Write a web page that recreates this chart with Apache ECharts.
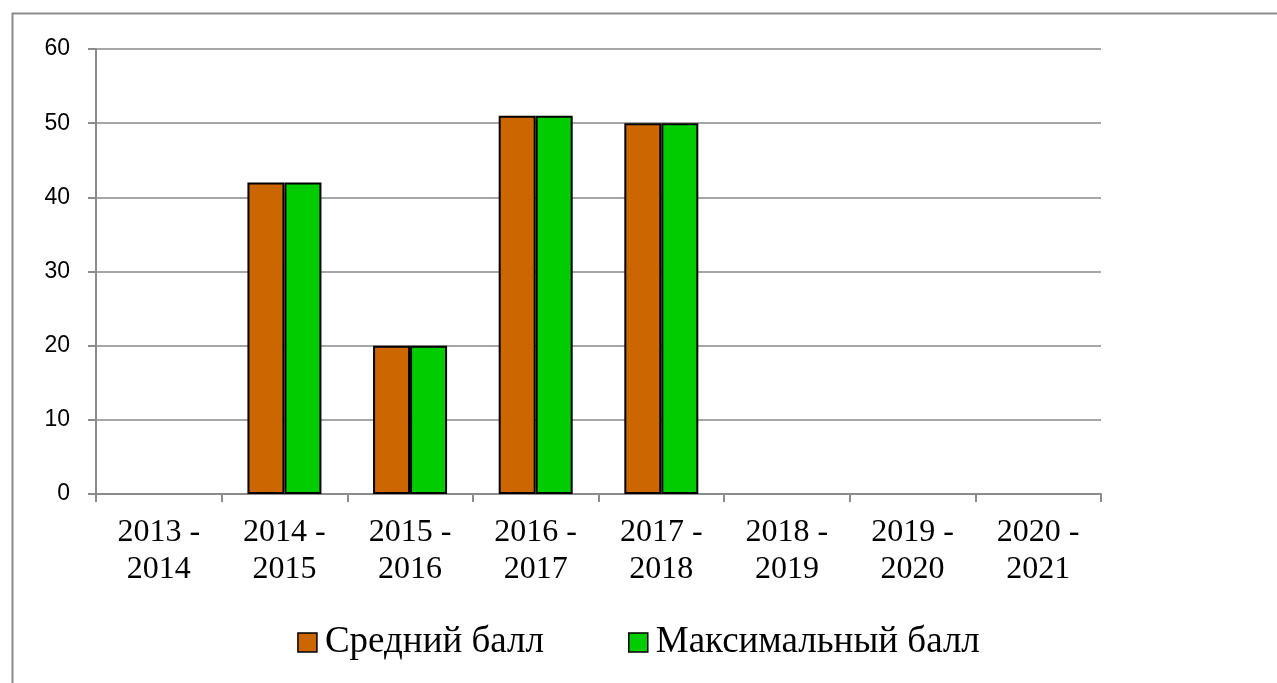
<!DOCTYPE html>
<html>
<head>
<meta charset="utf-8">
<script src="https://cdn.jsdelivr.net/npm/echarts@6/dist/echarts.min.js"></script>
<style>
  html, body { margin: 0; padding: 0; background: #fff; }
  #chart { width: 1277px; height: 683px; }
</style>
</head>
<body>
<div id="chart"></div>
<script>
// учебные годы
var categories = ['2013 -\n2014', '2014 -\n2015', '2015 -\n2016', '2016 -\n2017', '2017 -\n2018', '2018 -\n2019', '2019 -\n2020', '2020 -\n2021']
var avgScore = [null, 42, 20, 51, 50, null, null, null]
var maxScore = [null, 42, 20, 51, 50, null, null, null]
var seriesNames = ['Средний балл', 'Максимальный балл']

var myChart = echarts.init(document.getElementById('chart'))
var option = {
  animation: false,
  backgroundColor: '#fff',
  graphic: [
    {
      type: 'rect',
      shape: { x: 12.5, y: 13.5, width: 1400, height: 800 },
      style: { fill: 'none', stroke: '#8c8c8c', lineWidth: 2 },
      silent: true
    }
  ],
  grid: {
    left: 96,
    right: 176,
    top: 49,
    bottom: 189
  },
  legend: {
    top: 619,
    left: 'center',
    icon: 'rect',
    itemWidth: 19,
    itemHeight: 19,
    itemGap: 84,
    itemStyle: { borderColor: '#000', borderWidth: 1.5 },
    textStyle: {
      fontFamily: 'Liberation Serif',
      fontSize: 37,
      color: '#000',
      padding: [0, 0, 0, 3]
    },
    data: seriesNames
  },
  xAxis: {
    type: 'category',
    data: categories,
    axisLine: { lineStyle: { color: '#8c8c8c', width: 2 } },
    axisTick: { show: true, length: 8, lineStyle: { color: '#8c8c8c', width: 2 } },
    axisLabel: {
      interval: 0,
      margin: 20,
      fontFamily: 'Liberation Serif',
      fontSize: 32,
      lineHeight: 37,
      color: '#000'
    }
  },
  yAxis: {
    type: 'value',
    min: 0,
    max: 60,
    interval: 10,
    axisLine: { show: true, lineStyle: { color: '#8c8c8c', width: 2 } },
    axisTick: { show: true, length: 8, lineStyle: { color: '#8c8c8c', width: 2 } },
    axisLabel: {
      margin: 26,
      fontFamily: 'Liberation Sans',
      fontSize: 23,
      color: '#000'
    },
    splitLine: { lineStyle: { color: '#a6a6a6', width: 2 } }
  },
  series: [
    {
      name: seriesNames[0],
      type: 'bar',
      barWidth: 37,
      barGap: '0%',
      data: avgScore,
      itemStyle: { color: '#cc6600', borderColor: '#000', borderWidth: 2 }
    },
    {
      name: seriesNames[1],
      type: 'bar',
      barWidth: 37,
      barGap: '0%',
      data: maxScore,
      itemStyle: { color: '#00cc00', borderColor: '#000', borderWidth: 2 }
    }
  ]
}
myChart.setOption(option)
</script>
</body>
</html>
